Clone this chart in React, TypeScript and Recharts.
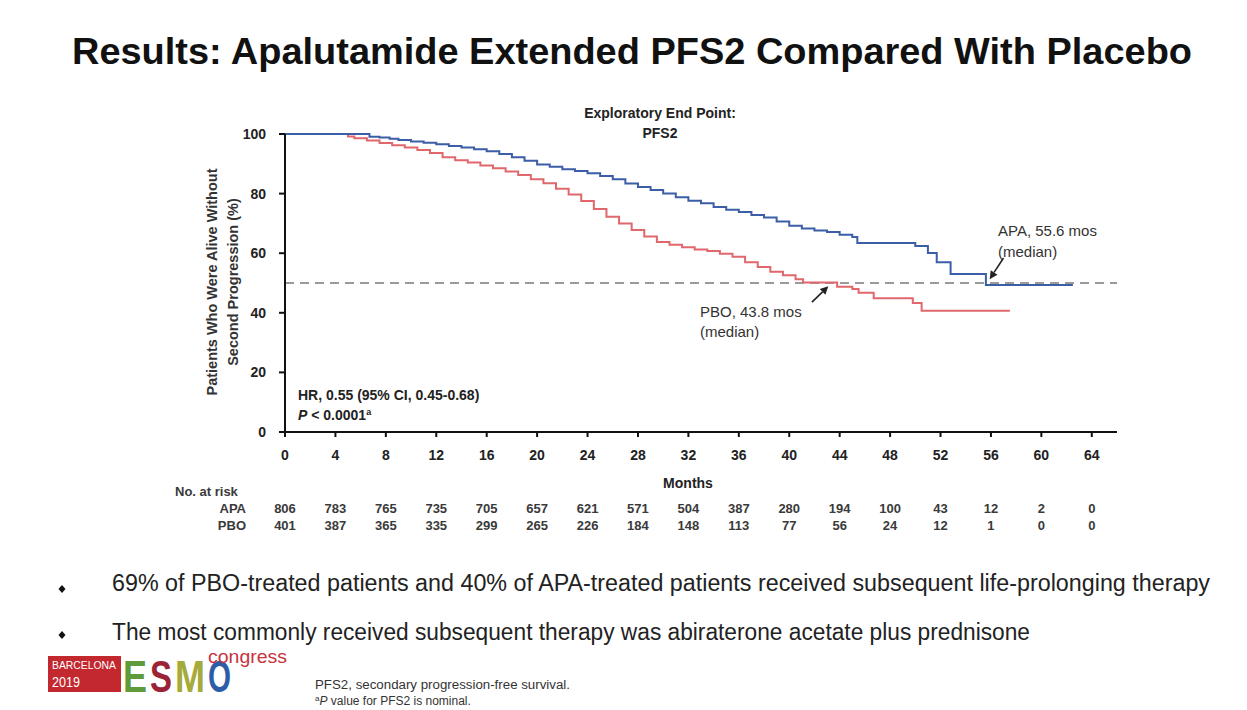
import React from 'react'
import { LineChart, Line, XAxis, YAxis, ReferenceLine } from 'recharts'

// x axis + number-at-risk table
const monthTicks = [0, 4, 8, 12, 16, 20, 24, 28, 32, 36, 40, 44, 48, 52, 56, 60, 64]
const apaAtRisk = [806, 783, 765, 735, 705, 657, 621, 571, 504, 387, 280, 194, 100, 43, 12, 2, 0]
const pboAtRisk = [401, 387, 365, 335, 299, 265, 226, 184, 148, 113, 77, 56, 24, 12, 1, 0, 0]
const pctTicks = [0, 20, 40, 60, 80, 100]

// Kaplan-Meier steps, apalutamide arm
const apaMonths = [
  0, 6.5, 6.7, 7.5, 8.3, 9, 10, 11, 12, 13, 14, 15, 16, 17, 18, 19, 20, 21, 22, 23, 24,
  25, 26, 27, 28, 29, 30, 31, 32, 33, 34, 35, 36, 37, 38, 39, 40, 41, 42, 43, 44, 45,
  45.4, 50, 51, 51.7, 52.8, 55.6, 62.5,
]
const apaPct = [
  100, 100, 99.1, 98.8, 98.4, 98, 97.5, 97.1, 96.6, 96, 95.5, 94.9, 94.2, 93.3, 92.2, 91, 89.8, 89, 88.2, 87.6, 86.8,
  85.9, 84.8, 83.4, 82.2, 81.2, 80, 78.8, 77.6, 76.8, 75.5, 74.6, 73.8, 72.8, 72, 70.6, 69.2, 68.3, 67.6, 67.1, 66.2, 65.4,
  63.4, 62.4, 60.1, 57, 53, 49.3, 49.3,
]

// Kaplan-Meier steps, placebo arm
const pboMonths = [
  0, 4.5, 5, 5.5, 6.5, 7.5, 8.5, 9.5, 10.5, 11.5, 12.5, 13.5, 14.5, 15.5, 16.5, 17.5, 18.5, 19.5,
  20.5, 21.5, 22.5, 23.5, 24.5, 25.5, 26.5, 27.5, 28.5, 29.5, 30.5, 31.5, 32.5, 33.5, 34.5, 35.5,
  36.5, 37.5, 38.5, 39.5, 40.5, 41.1, 43.8, 45, 45.5, 46.7, 49.8, 50.5, 57.5,
]
const pboPct = [
  100, 100, 99.2, 98.6, 97.8, 97, 96.2, 95.5, 94.6, 93.6, 92.2, 91.2, 90.4, 89.4, 88.5, 87.4, 86.2, 84.8,
  83.5, 81.6, 79.7, 77.5, 74.8, 72.2, 70, 67.8, 65.6, 63.8, 62.8, 62, 61.2, 60.7, 59.8, 58.8,
  57, 55.4, 53.8, 52.6, 51.3, 50.2, 48.7, 48, 46.7, 44.9, 43.3, 40.7, 40.7,
]

const apaData = apaMonths.map((month, i) => ({ month, pct: apaPct[i] }))
const pboData = pboMonths.map((month, i) => ({ month, pct: pboPct[i] }))

const FONT = '"Liberation Sans", Arial, sans-serif'
const APA_BLUE = '#3b5ea6'
const PBO_RED = '#e0676c'

const MonthTick = ({ x, y, payload }: any) => {
  const i = monthTicks.indexOf(payload.value)
  const common = { x, textAnchor: 'middle' as const, fontFamily: FONT }
  return (
    <g>
      <text {...common} y={y + 21} fontSize={14} fontWeight="bold" fill="#222">{payload.value}</text>
      <text {...common} y={y + 74} fontSize={13} fontWeight="bold" fill="#3a3a3a">{apaAtRisk[i]}</text>
      <text {...common} y={y + 91} fontSize={13} fontWeight="bold" fill="#3a3a3a">{pboAtRisk[i]}</text>
    </g>
  )
}

// arrow pointing at a median crossing
const Arrow = (p: any) => {
  const { x1, y1, x2, y2 } = p
  const a = Math.atan2(y2 - y1, x2 - x1)
  const L = 8, W = 4
  const bx = x2 - L * Math.cos(a), by = y2 - L * Math.sin(a)
  const pts = [
    `${x2},${y2}`,
    `${bx + W * Math.sin(a)},${by - W * Math.cos(a)}`,
    `${bx - W * Math.sin(a)},${by + W * Math.cos(a)}`,
  ].join(' ')
  return (
    <g>
      <line x1={x1} y1={y1} x2={bx} y2={by} stroke="#222" strokeWidth={1.6} />
      <polygon points={pts} fill="#222" />
    </g>
  )
}

function SurvivalChart() {
  const axisText = { fontSize: 14, fontWeight: 'bold', fill: '#222', fontFamily: FONT }
  return (
    <LineChart width={1247} height={560} margin={{ top: 134, right: 130, bottom: 98, left: 235 }}>
      <XAxis
        dataKey="month"
        type="number"
        domain={[0, 66]}
        ticks={monthTicks}
        interval={0}
        allowDuplicatedCategory={false}
        height={30}
        tickSize={5}
        tickMargin={2}
        axisLine={{ stroke: '#111', strokeWidth: 2 }}
        tickLine={{ stroke: '#111', strokeWidth: 2 }}
        tick={<MonthTick />}
      />
      <YAxis
        type="number"
        domain={[0, 100]}
        ticks={pctTicks}
        interval={0}
        width={50}
        tickSize={6}
        tickMargin={13}
        axisLine={{ stroke: '#111', strokeWidth: 2 }}
        tickLine={{ stroke: '#111', strokeWidth: 2 }}
        tick={axisText}
      />
      <ReferenceLine y={50} stroke="#7a7a7a" strokeWidth={1.6} strokeDasharray="9 6" />
      <Line
        data={pboData}
        dataKey="pct"
        type="stepAfter"
        stroke={PBO_RED}
        strokeWidth={2}
        dot={false}
        isAnimationActive={false}
      />
      <Line
        data={apaData}
        dataKey="pct"
        type="stepAfter"
        stroke={APA_BLUE}
        strokeWidth={2}
        dot={false}
        isAnimationActive={false}
      />
      <ReferenceLine segment={[{ x: 41.8, y: 43.6 }, { x: 43.1, y: 48.9 }]} shape={<Arrow />} />
      <ReferenceLine segment={[{ x: 57.0, y: 58.4 }, { x: 55.9, y: 51.3 }]} shape={<Arrow />} />
    </LineChart>
  )
}

function Diamond({ cx, cy }: { cx: number; cy: number }) {
  return <polygon points={`${cx},${cy - 4} ${cx + 3.5},${cy} ${cx},${cy + 4} ${cx - 3.5},${cy}`} fill="#111" />
}

// coloured letters of the congress logo
const logoLetters = [
  { ch: 'E', x: 123, w: 24, fill: '#5f9a3b' },
  { ch: 'S', x: 150, w: 22, fill: '#9b2335' },
  { ch: 'M', x: 175, w: 30, fill: '#a6aa3a' },
  { ch: 'O', x: 208, w: 23, fill: '#2c5ea8' },
]

export default function App() {
  const fit = 'spacingAndGlyphs'
  return (
    <div style={{ position: 'fixed', left: 0, top: 0, width: 1247, height: 710, background: '#fff', overflow: 'hidden' }}>
      <div style={{ position: 'absolute', left: 0, top: 0 }}>
        <SurvivalChart />
      </div>
      <svg width={1247} height={710} style={{ position: 'absolute', left: 0, top: 0, pointerEvents: 'none' }} fontFamily={FONT}>
        <text x={72} y={64} fontSize={36} fontWeight="bold" fill="#111" textLength={1120} lengthAdjust={fit}>
          Results: Apalutamide Extended PFS2 Compared With Placebo
        </text>

        <text x={660} y={118} textAnchor="middle" fontSize={14} fontWeight="bold" fill="#222">Exploratory End Point:</text>
        <text x={660} y={138} textAnchor="middle" fontSize={14} fontWeight="bold" fill="#222">PFS2</text>

        <g transform="translate(217,282) rotate(-90)">
          <text x={0} y={0} textAnchor="middle" fontSize={14.5} fontWeight="bold" fill="#333">Patients Who Were Alive Without</text>
        </g>
        <g transform="translate(238,282) rotate(-90)">
          <text x={0} y={0} textAnchor="middle" fontSize={14.5} fontWeight="bold" fill="#333">Second Progression (%)</text>
        </g>

        <text x={298} y={400} fontSize={14} fontWeight="bold" fill="#222">HR, 0.55 (95% CI, 0.45-0.68)</text>
        <text x={298} y={420} fontSize={14} fontWeight="bold" fill="#222">
          <tspan fontStyle="italic">P</tspan> &lt; 0.0001<tspan fontSize={9} dy={-5}>a</tspan>
        </text>

        <text x={998} y={236} fontSize={15} fill="#333">APA, 55.6 mos</text>
        <text x={998} y={257} fontSize={15} fill="#333">(median)</text>
        <text x={700} y={317} fontSize={15} fill="#333">PBO, 43.8 mos</text>
        <text x={700} y={337} fontSize={15} fill="#333">(median)</text>

        <text x={688} y={488} textAnchor="middle" fontSize={14} fontWeight="bold" fill="#222">Months</text>
        <text x={175} y={496} fontSize={13} fontWeight="bold" fill="#3a3a3a">No. at risk</text>
        <text x={246} y={513} textAnchor="end" fontSize={13} fontWeight="bold" fill="#3a3a3a">APA</text>
        <text x={246} y={530} textAnchor="end" fontSize={13} fontWeight="bold" fill="#3a3a3a">PBO</text>

        <Diamond cx={62} cy={589} />
        <text x={112} y={591} fontSize={23} fill="#222" textLength={1098} lengthAdjust={fit}>
          69% of PBO-treated patients and 40% of APA-treated patients received subsequent life-prolonging therapy
        </text>
        <Diamond cx={62} cy={635} />
        <text x={112} y={640} fontSize={23} fill="#222" textLength={918} lengthAdjust={fit}>
          The most commonly received subsequent therapy was abiraterone acetate plus prednisone
        </text>

        {/* congress logo */}
        <rect x={48} y={656} width={73} height={36} fill="#c4282f" />
        <text x={52} y={669} fontSize={10} fill="#fff" textLength={64} lengthAdjust={fit}>BARCELONA</text>
        <text x={52} y={687} fontSize={14} fill="#fff" textLength={28} lengthAdjust={fit}>2019</text>
        {logoLetters.map(l => (
          <text key={l.ch} x={l.x} y={692} fontSize={44} fontWeight="bold" fill={l.fill} textLength={l.w} lengthAdjust={fit}>
            {l.ch}
          </text>
        ))}
        <text x={208} y={663} fontSize={19} fill="#c8323f" textLength={79} lengthAdjust={fit}>congress</text>

        <text x={315} y={689} fontSize={12} fill="#333" textLength={255} lengthAdjust={fit}>PFS2, secondary progression-free survival.</text>
        <text x={315} y={705} fontSize={12} fill="#333">
          <tspan fontSize={8} dy={-4}>a</tspan><tspan dy={4} fontStyle="italic">P</tspan> value for PFS2 is nominal.
        </text>
      </svg>
    </div>
  )
}
